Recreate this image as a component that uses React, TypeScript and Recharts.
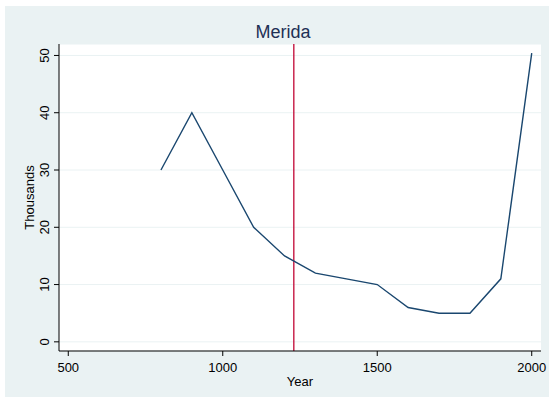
import { LineChart, Line, XAxis, YAxis, CartesianGrid, ReferenceLine, Label } from 'recharts';

const years = [800, 900, 1000, 1100, 1200, 1300, 1400, 1500, 1600, 1700, 1800, 1900, 2000];
const thousands = [30, 40, 30, 20, 15, 12, 11, 10, 6, 5, 5, 11, 50.4];
const markerYear = 1230;
const xTicks = [500, 1000, 1500, 2000];
const yTicks = [0, 10, 20, 30, 40, 50];

const data = years.map((year, i) => ({ year, value: thousands[i] }));

const font = '"Liberation Sans", Arial, Helvetica, sans-serif';
const bg = '#EAF2F3';
const navy = '#1A476F';

const YTick = ({ x, y, payload }: any) => (
  <text
    x={x - 3}
    y={y}
    transform={`rotate(-90, ${x - 3}, ${y})`}
    textAnchor="middle"
    fontSize={13}
    fontFamily={font}
    fill="#000"
  >
    {payload.value}
  </text>
);

export default function App() {
  return (
    <div style={{ position: 'absolute', left: 0, top: 0, width: 554, height: 403, background: '#fff' }}>
      <div style={{ position: 'absolute', left: 5, top: 6, width: 544, height: 391, background: bg }} />
      <div
        style={{
          position: 'absolute',
          left: 233,
          top: 20,
          width: 100,
          textAlign: 'center',
          fontFamily: font,
          fontSize: 18,
          color: '#1E3055',
          lineHeight: '24px',
        }}
      >
        Merida
      </div>
      <div style={{ position: 'absolute', left: 0, top: 0 }}>
        <LineChart width={554} height={403} data={data} margin={{ top: 44, right: 13, bottom: 22, left: 19 }}>
          <CartesianGrid fill="#ffffff" stroke={bg} vertical={false} />
          <XAxis
            dataKey="year"
            type="number"
            domain={[470, 2030]}
            ticks={xTicks}
            height={30}
            tickSize={5}
            tickMargin={7}
            stroke="#000"
            tick={{ fill: '#000', fontSize: 13, fontFamily: font }}
          >
            <Label
              content={({ viewBox }: any) => (
                <text
                  x={viewBox.x + viewBox.width / 2}
                  y={386}
                  textAnchor="middle"
                  fontSize={13}
                  fontFamily={font}
                  fill="#000"
                >
                  Year
                </text>
              )}
            />
          </XAxis>
          <YAxis
            type="number"
            domain={[-1.6, 52]}
            ticks={yTicks}
            width={40}
            tickSize={5}
            tickMargin={2}
            stroke="#000"
            tick={<YTick />}
          >
            <Label
              content={({ viewBox }: any) => {
                const cx = 34;
                const cy = viewBox.y + viewBox.height / 2;
                return (
                  <text
                    x={cx}
                    y={cy}
                    transform={`rotate(-90, ${cx}, ${cy})`}
                    textAnchor="middle"
                    fontSize={13}
                    fontFamily={font}
                    fill="#000"
                  >
                    Thousands
                  </text>
                );
              }}
            />
          </YAxis>
          <ReferenceLine x={markerYear} stroke="#C10534" strokeWidth={1.3} />
          <Line
            type="linear"
            dataKey="value"
            stroke={navy}
            strokeWidth={1.4}
            dot={false}
            isAnimationActive={false}
          />
        </LineChart>
      </div>
    </div>
  );
}
